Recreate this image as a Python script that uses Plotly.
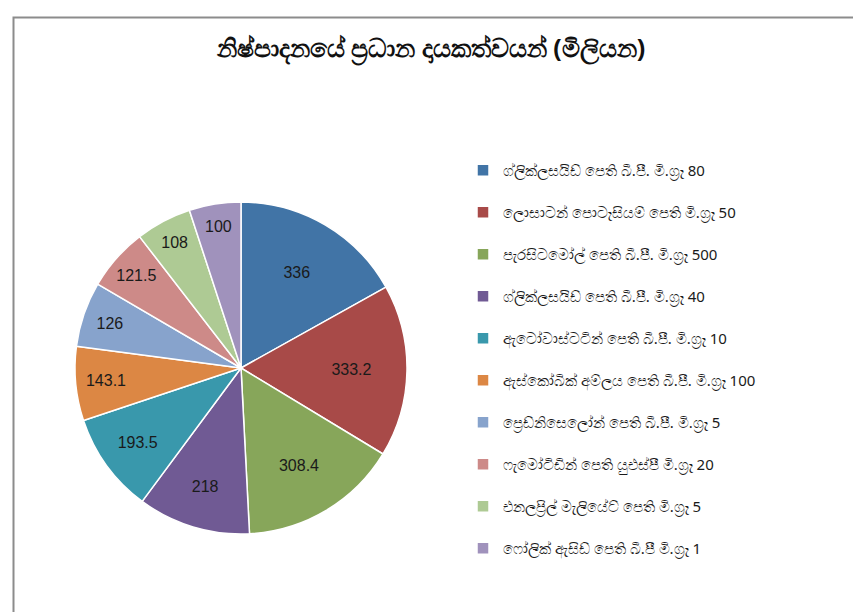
import plotly.graph_objects as go

title_text = "නිෂ්පාදනයේ ප්‍රධාන දායකත්වයන් (මිලියන)"

products = [
    "ග්ලික්ලසයිඩ් පෙති බී.පී. මි.ග්‍රෑ 80",
    "ලොසාටන් පොටෑසියම් පෙති මි.ග්‍රෑ 50",
    "පැරසිටමෝල් පෙති බී.පී. මි.ග්‍රෑ 500",
    "ග්ලික්ලසයිඩ් පෙති බී.පී. මි.ග්‍රෑ 40",
    "ඇටෝවාස්ටටින් පෙති බී.පී. මි.ග්‍රෑ 10",
    "ඇස්කෝබික් අම්ලය පෙති බී.පී. මි.ග්‍රෑ 100",
    "ප්‍රෙඩ්නිසෙලෝන් පෙති බී.පී. මි.ග්‍රෑ 5",
    "ෆැමෝටිඩින් පෙති යුඑස්පී මි.ග්‍රෑ 20",
    "එනලප්‍රිල් මැලියේට් පෙති මි.ග්‍රෑ 5",
    "ෆෝලික් ඇසිඩ් පෙති බී.පී මි.ග්‍රෑ 1",
]
values_millions = [336, 333.2, 308.4, 218, 193.5, 143.1, 126, 121.5, 108, 100]

colors = ["#4174A6", "#A84A48", "#87A65A", "#705A94", "#3998AC",
          "#DC8744", "#87A3CC", "#CD8A88", "#AECA94", "#A092BC"]

W, H = 861, 612
cx, cy, r = 233, 360, 166

fig = go.Figure(go.Pie(
    labels=[p + "<br> " for p in products],
    values=values_millions,
    sort=False,
    direction="clockwise",
    rotation=0,
    marker=dict(colors=colors, line=dict(color="white", width=1.5)),
    texttemplate="%{value}",
    textinfo="value",
    textposition="inside",
    insidetextorientation="horizontal",
    textfont=dict(family="Liberation Sans, Arial, sans-serif", size=16, color="#1a1a1a"),
    domain=dict(x=[(cx - r) / W, (cx + r) / W],
                y=[(H - cy - r) / H, (H - cy + r) / H]),
    hoverinfo="label+value",
))

fig.update_layout(
    width=W, height=H,
    margin=dict(l=0, r=0, t=0, b=0),
    paper_bgcolor="white",
    title=dict(text=title_text, x=423 / W, xanchor="center", y=1 - 40 / H, yanchor="middle",
               font=dict(family="Noto Sans, DejaVu Sans, sans-serif", size=25, color="#111111",
                         weight="bold")),
    legend=dict(x=455 / W, xanchor="left", y=1 - 146 / H, yanchor="top",
                font=dict(family="Noto Sans, DejaVu Sans, sans-serif", size=15, color="#1a1a1a"),
                valign="top", itemwidth=30, bgcolor="rgba(0,0,0,0)"),
    shapes=[dict(type="rect", xref="paper", yref="paper",
                 x0=5.5 / W, x1=1.05, y0=-0.05, y1=1 - 9.5 / H,
                 line=dict(color="#8c8c8c", width=2), fillcolor="rgba(0,0,0,0)")],
)

fig.write_html("out.html")
